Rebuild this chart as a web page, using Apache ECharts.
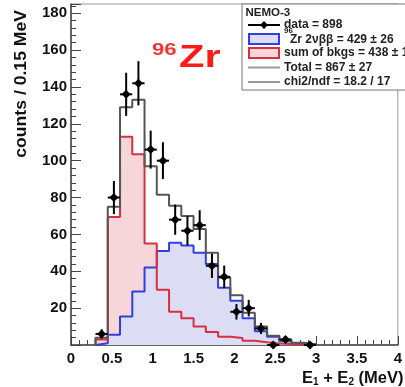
<!DOCTYPE html>
<html><head><meta charset="utf-8">
<script src="https://cdn.jsdelivr.net/npm/echarts@6/dist/echarts.min.js"></script>
<style>html,body{margin:0;padding:0;background:#fff;overflow:hidden}#c{width:405px;height:387px}</style>
</head><body><div id="c"></div>
<script>
// Bin lower edges (MeV), bin width 0.15 MeV
const binEdges = [0.30,0.45,0.60,0.75,0.90,1.05,1.20,1.35,1.50,1.65,1.80,1.95,2.10,2.25,2.40,2.55,2.70,2.85];
const binWidth = 0.15;
// 96Zr 2vbb signal (blue)
const signal2nbb = [1,5.5,15.5,29,42,51,55.5,54,50,44,31,24,14.5,7.5,4.5,2,0.8,0.3];
// sum of backgrounds (red)
const backgrounds = [3,69.5,113,103.5,55,30,18,14.5,10,7,4.5,3.8,2.3,1.5,0.8,0.5,0.3,0.1];
// Total (grey/black outline)
const totalFit = [4,75,129,133,97,81.5,75.5,70,63,50,36.5,27,17.5,10,5,2.5,1.2,0.4];
// data points (null = not drawn) and their errors
const dataCounts = [6,80,136,142,106,100,68,62,65,43,37,18,20,9,0,3,null,0];
const dataErrors = [2.5,9,11.7,12,10.3,10,8.2,7.9,8.1,6.6,6.1,4.2,4.5,3,0,1.7,0,0];
const xTickInterval = 0.5;
const yTickInterval = 20;
const legendTitle = 'NEMO-3';

const FONT = 'Liberation Sans, Arial, Helvetica, sans-serif';

function histPoints(vals){
  const last = binEdges.length - 1;
  const p = [[binEdges[0], 0]];
  vals.forEach((v,i)=>p.push([binEdges[i], v]));
  p.push([binEdges[last] + binWidth, 0]);
  return p;
}
const dataPts = [];
dataCounts.forEach((v,i)=>{ if(v!==null) dataPts.push([binEdges[i]+binWidth/2, v, dataErrors[i]]); });

function txt(id, x, y, text, size){
  return {type:'text', id:id, x:x, y:y, z:11,
    style:{text:text, fontSize:size, fontWeight:'bold', fontFamily:FONT, fill:'#222', align:'left', verticalAlign:'middle'}};
}

const chart = echarts.init(document.getElementById('c'), null, {renderer:'canvas'});
const option = {
  animation:false,
  backgroundColor:'#fff',
  grid:{left:71,right:2,top:4,bottom:42,show:true,borderColor:'#999',borderWidth:1},
  xAxis:{type:'value',min:0,max:4,interval:xTickInterval,
    axisLine:{show:true,onZero:false,lineStyle:{color:'#444',width:1.5}},
    axisTick:{show:true,inside:true,length:9,lineStyle:{color:'#444',width:1}},
    minorTick:{show:true,splitNumber:5,length:5,lineStyle:{color:'#444',width:1}},
    splitLine:{show:false},
    axisLabel:{show:true,margin:6,color:'#111',fontSize:15,fontWeight:'bold',fontFamily:FONT,showMaxLabel:true,showMinLabel:true}
  },
  yAxis:{type:'value',min:0,max:185,interval:yTickInterval,
    axisLine:{show:true,lineStyle:{color:'#444',width:1.5}},
    axisTick:{show:true,inside:true,length:10,lineStyle:{color:'#444',width:1}},
    minorTick:{show:true,splitNumber:5,length:5,lineStyle:{color:'#444',width:1}},
    splitLine:{show:false},
    axisLabel:{margin:4,color:'#111',fontSize:15,fontWeight:'bold',fontFamily:FONT,
      formatter:v=>(v===0||v>180)?'':String(v)}
  },
  series:[
    {type:'line',name:'bkg area',step:'end',data:histPoints(backgrounds),symbol:'none',z:1,
      lineStyle:{width:0,opacity:0},areaStyle:{color:'#f6d6d8',opacity:1}},
    {type:'line',name:'2nbb',step:'end',data:histPoints(signal2nbb),symbol:'none',z:2,
      lineStyle:{color:'#3040e0',width:2},areaStyle:{color:'#dcdcf4',opacity:1}},
    {type:'line',name:'bkg line',step:'end',data:histPoints(backgrounds),symbol:'none',z:3,
      lineStyle:{color:'#d83040',width:2}},
    {type:'line',name:'total',step:'end',data:histPoints(totalFit),symbol:'none',z:4,
      lineStyle:{color:'#555',width:2}},
    {type:'custom',name:'data',z:5,data:dataPts,
      renderItem:function(params,api){
        const x=api.value(0), y=api.value(1), e=api.value(2);
        const c=api.coord([x,y]);
        const t=api.coord([x,y+e]);
        const b=api.coord([x,Math.max(0,y-e)]);
        const l=api.coord([x-binWidth/2,y]);
        const r=api.coord([x+binWidth/2,y]);
        const s=4.5;
        return {type:'group',children:[
          {type:'line',shape:{x1:t[0],y1:t[1],x2:b[0],y2:b[1]},style:{stroke:'#000',lineWidth:2}},
          {type:'line',shape:{x1:l[0],y1:l[1],x2:r[0],y2:r[1]},style:{stroke:'#000',lineWidth:2}},
          {type:'polygon',shape:{points:[[c[0],c[1]-s],[c[0]+s,c[1]],[c[0],c[1]+s],[c[0]-s,c[1]]]},style:{fill:'#000'}}
        ]};
      }
    }
  ],
  graphic:{elements:[
    {type:'text',id:'ytitle',x:22,y:10,rotation:Math.PI/2,scaleX:1.1,style:{text:'counts / 0.15 MeV',fontSize:16,fontWeight:'bold',fontFamily:FONT,fill:'#111',align:'right',verticalAlign:'middle'}},
    {type:'text',id:'xtitle',x:302,y:378,style:{text:'E{s|1} + E{s|2} (MeV)',fontSize:16.5,fontWeight:'bold',fontFamily:FONT,fill:'#111',align:'left',verticalAlign:'middle',
      rich:{s:{fontSize:10,fontWeight:'bold',fontFamily:FONT,fill:'#111',padding:[8,0,0,0]}}}},
    {type:'text',id:'iso',x:152,y:50,scaleX:1.3,style:{text:'96',fontSize:17,fontWeight:'bold',fontFamily:FONT,fill:'#ff3030',align:'left',verticalAlign:'middle'}},
    {type:'text',id:'elem',x:179,y:58,scaleX:1.3,style:{text:'Zr',fontSize:32,fontWeight:'bold',fontFamily:FONT,fill:'#ff1a1a',align:'left',verticalAlign:'middle'}},
    {type:'group',id:'legend',x:0,y:0,children:[
      {type:'rect',z:10,shape:{x:242,y:4,width:180,height:86},style:{fill:'#fff',stroke:'#777',lineWidth:1},
        textContent:{z:12,style:{text:legendTitle,fontSize:11.5,fontWeight:'bold',fontFamily:FONT,fill:'#222'}},
        textConfig:{position:[4,3]}},
      {type:'line',z:11,shape:{x1:248,y1:25,x2:280,y2:25},style:{stroke:'#000',lineWidth:2}},
      {type:'polygon',z:11,shape:{points:[[264,21],[268,25],[264,29],[260,25]]},style:{fill:'#000'}},
      txt('t1',284,25,'data = 898',12),
      {type:'rect',z:11,shape:{x:249,y:34,width:30,height:10},style:{fill:'#dcdcf4',stroke:'#3040e0',lineWidth:2}},
      txt('t2s',284,31,'96',8),
      txt('t2',290,40,'Zr 2νββ = 429 ± 26',12),
      {type:'rect',z:11,shape:{x:249,y:48,width:30,height:10},style:{fill:'#f6d6d8',stroke:'#d83040',lineWidth:2}},
      txt('t3',284,53,'sum of bkgs = 438 ± 1',12),
      {type:'line',z:11,shape:{x1:248,y1:67.5,x2:280,y2:67.5},style:{stroke:'#999',lineWidth:2}},
      txt('t4',284,67.5,'Total = 867 ± 27',12),
      {type:'line',z:11,shape:{x1:248,y1:82,x2:280,y2:82},style:{stroke:'#999',lineWidth:2}},
      txt('t5',284,82,'chi2/ndf = 18.2 / 17',12)
    ]}
  ]}
};
chart.setOption(option);
</script>
</body></html>
